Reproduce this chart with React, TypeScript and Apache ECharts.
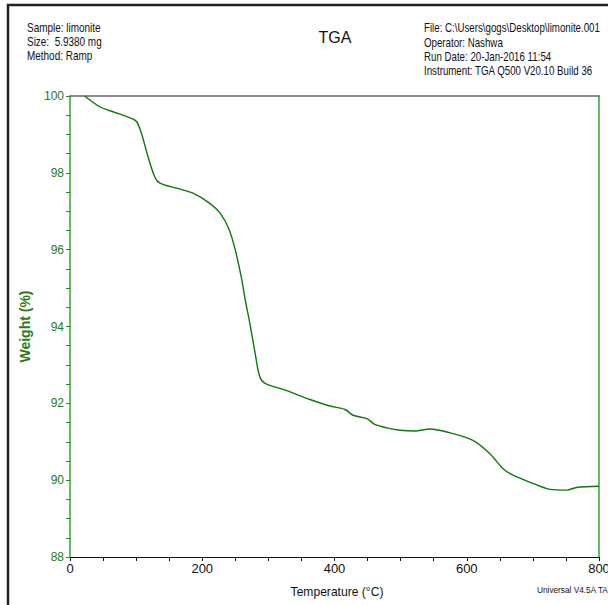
import React, { useEffect, useRef } from "react";
import * as echarts from "echarts";

const temps = [22, 45, 65, 93, 101, 108, 118, 128, 136, 161, 186, 212, 227, 240, 250, 260, 265, 272, 280, 287, 295, 328, 363, 393, 416, 428, 449, 461, 479, 499, 522, 544, 575, 610, 635, 655, 670, 701, 726, 751, 766, 800];
const weights = [100, 99.72, 99.59, 99.42, 99.33, 99.03, 98.42, 97.9, 97.73, 97.6, 97.47, 97.2, 96.95, 96.55, 95.99, 95.2, 94.69, 94.08, 93.3, 92.69, 92.52, 92.33, 92.1, 91.93, 91.84, 91.69, 91.6, 91.45, 91.36, 91.3, 91.28, 91.33, 91.23, 91.03, 90.69, 90.3, 90.13, 89.91, 89.76, 89.74, 89.81, 89.84];

const headerLeft = ["Sample: limonite", "Size:  5.9380 mg", "Method: Ramp"];
const headerRight = ["File: C:\\Users\\gogs\\Desktop\\limonite.001", "Operator: Nashwa", "Run Date: 20-Jan-2016 11:54", "Instrument: TGA Q500 V20.10 Build 36"];
const xName = "Temperature (°C)";
const yName = "Weight (%)";

const FONT = "Liberation Sans, Arial, sans-serif";

export default function App() {
  const ref = useRef<HTMLDivElement>(null);
  useEffect(() => {
    document.body.style.margin = "0";
    const chart = echarts.init(ref.current!, null, { renderer: "svg" });
    const graphics: any[] = [
      { type: "rect", shape: { x: 8, y: 5, width: 700, height: 700 }, style: { fill: "none", stroke: "#222", lineWidth: 2.5 }, silent: true },
      { type: "text", x: 335, y: 37, style: { text: "TGA", font: `16px ${FONT}`, fill: "#111", align: "center", verticalAlign: "middle" } },
      { type: "text", x: 337, y: 592, scaleX: 0.93, style: { text: xName, font: `13px ${FONT}`, fill: "#111", align: "center", verticalAlign: "middle" } },
      { type: "text", x: 537, y: 590, scaleX: 0.92, style: { text: "Universal V4.5A TA Instruments", font: `9px ${FONT}`, fill: "#111", verticalAlign: "middle" } },
    ];
    headerLeft.forEach((t, i) => graphics.push({ type: "text", x: 27, y: 28 + i * 14, scaleX: 0.83, style: { text: t, font: `12px ${FONT}`, fill: "#111", verticalAlign: "middle" } }));
    headerRight.forEach((t, i) => graphics.push({ type: "text", x: 424, y: 28 + i * 14.3, scaleX: 0.81, style: { text: t, font: `12px ${FONT}`, fill: "#111", verticalAlign: "middle" } }));
    chart.setOption({
      animation: false,
      grid: { left: 70, right: 9, top: 96, bottom: 48, outerBoundsMode: "none", containLabel: false },
      graphic: graphics,
      xAxis: [
        {
          type: "value", min: 0, max: 800, interval: 200,
          axisLine: { onZero: false, lineStyle: { color: "#111", width: 1.2 } },
          axisTick: { length: 4, lineStyle: { color: "#111" } },
          minorTick: { show: true, splitNumber: 4, length: 4, lineStyle: { color: "#111" } },
          axisLabel: { fontFamily: FONT, fontSize: 13, color: "#111", margin: 5 },
          splitLine: { show: false },
        },
        {
          type: "value", min: 0, max: 800, position: "top",
          axisLine: { onZero: false, lineStyle: { color: "#666", width: 1.5 } },
          axisTick: { show: false }, axisLabel: { show: false }, splitLine: { show: false },
        },
      ],
      yAxis: [
        {
          type: "value", min: 88, max: 100, interval: 2,
          name: yName, nameLocation: "middle", nameGap: 38, nameRotate: 90,
          nameTextStyle: { fontFamily: FONT, fontSize: 14, fontWeight: "bold", color: "#2a7a1a" },
          axisLine: { onZero: false, lineStyle: { color: "#2fa52f", width: 1.5 } },
          axisTick: { length: 4, lineStyle: { color: "#2a8a2a" } },
          minorTick: { show: true, splitNumber: 4, length: 4, lineStyle: { color: "#2a8a2a" } },
          axisLabel: { fontFamily: FONT, fontSize: 12, color: "#2a7a1a", margin: 6 },
          splitLine: { show: false },
        },
        {
          type: "value", min: 88, max: 100, position: "right",
          axisLine: { onZero: false, lineStyle: { color: "#2fa52f", width: 1.5 } },
          axisTick: { show: false }, axisLabel: { show: false }, splitLine: { show: false },
        },
      ],
      series: [
        {
          type: "line", xAxisIndex: 0, yAxisIndex: 0, smooth: 0.3, showSymbol: false,
          lineStyle: { color: "#0b7a0b", width: 1.4 },
          data: temps.map((t, i) => [t, weights[i]]),
        },
      ],
    });
    return () => chart.dispose();
  }, []);
  return <div ref={ref} style={{ width: 608, height: 605 }} />;
}
